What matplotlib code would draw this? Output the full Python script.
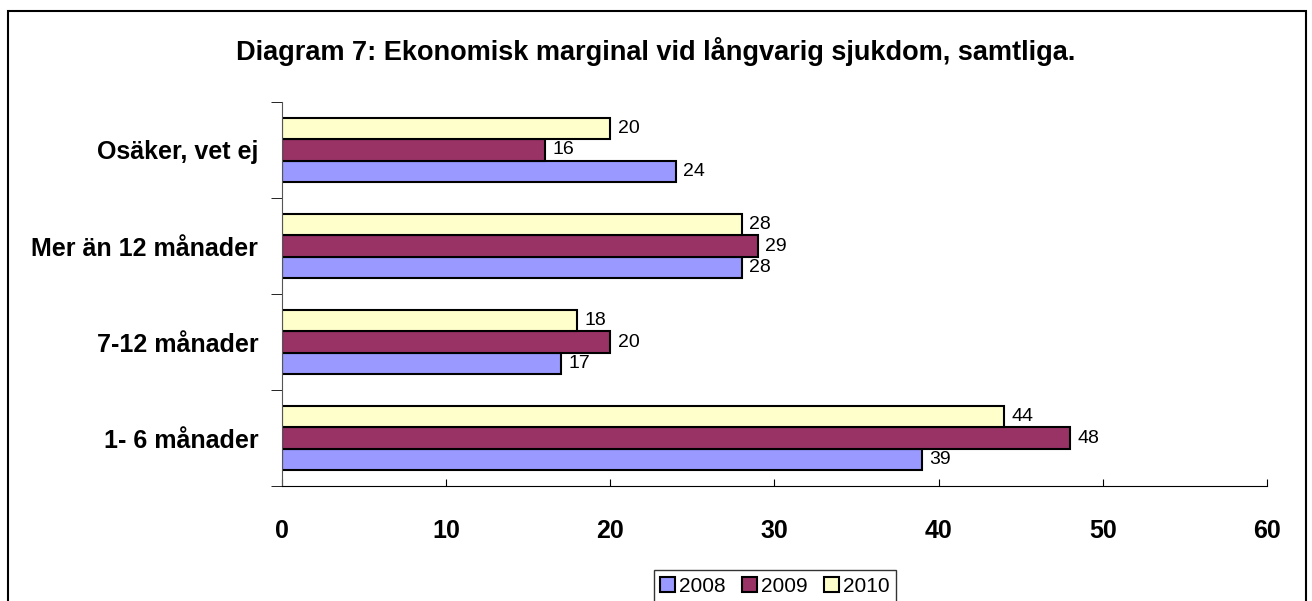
import numpy as np
import matplotlib.pyplot as plt
from matplotlib.patches import Rectangle

plt.rcParams['font.family'] = ['Liberation Sans', 'DejaVu Sans']

# kategorier nedifrån och upp
kategorier = ["1- 6 månader", "7-12 månader", "Mer än 12 månader", "Osäker, vet ej"]
ar = ["2008", "2009", "2010"]
v2008 = [39, 17, 28, 24]
v2009 = [48, 20, 29, 16]
v2010 = [44, 18, 28, 20]
farger = ["#9999FF", "#993366", "#FFFFCC"]
xticks = [0, 10, 20, 30, 40, 50, 60]

fig = plt.figure(figsize=(13.12, 6.01), dpi=100)
ax = fig.add_axes([0.2149, 0.1913, 0.7508, 0.6390])

# ram runt hela diagrammet
fig.patches.append(Rectangle((8/1312, -0.05), 1298/1312, 1 - 11/601 + 0.05,
                             transform=fig.transFigure, fill=False,
                             edgecolor="black", linewidth=1.5))

y = np.arange(len(kategorier))
h = 0.222
serier = [v2008, v2009, v2010]
for i, (vals, namn, f) in enumerate(zip(serier, ar, farger)):
    pos = y + (i - 1) * h
    ax.barh(pos, vals, height=h, color=f, edgecolor="black", linewidth=1.5, label=namn)
    for p, v in zip(pos, vals):
        ax.text(v + 0.45, p, str(v), va="center", ha="left", fontsize=14)

ax.set_xlim(0, 60)
ax.set_ylim(-0.5, len(kategorier) - 0.5)
ax.set_xticks(xticks)
ax.set_xticklabels([str(t) for t in xticks], fontsize=18, fontweight="bold")
ax.tick_params(axis="x", direction="in", length=5, pad=24)
ax.set_yticks(y)
ax.set_yticklabels(kategorier, fontsize=18, fontweight="bold")
ax.tick_params(axis="y", length=0, pad=17)
ax.set_yticks(np.arange(-0.5, len(kategorier)), minor=True)
ax.tick_params(axis="y", which="minor", direction="out", length=8)
for s in ["top", "right"]:
    ax.spines[s].set_visible(False)
ax.spines["left"].set_color("#555555")
ax.spines["bottom"].set_color("black")

fig.text(0.5, 1 - 52/601, "Diagram 7: Ekonomisk marginal vid långvarig sjukdom, samtliga.",
         ha="center", va="center", fontsize=19.5, fontweight="bold")

leg = fig.legend(loc="center", bbox_to_anchor=(775/1312, 1 - 586/601), ncol=3,
                 fontsize=15, frameon=True, fancybox=False, edgecolor="black",
                 handlelength=0.7, handleheight=0.7, handletextpad=0.2, columnspacing=0.8,
                 borderpad=0.3)
leg.get_frame().set_linewidth(1.0)

fig.savefig("out.png", dpi=100)
